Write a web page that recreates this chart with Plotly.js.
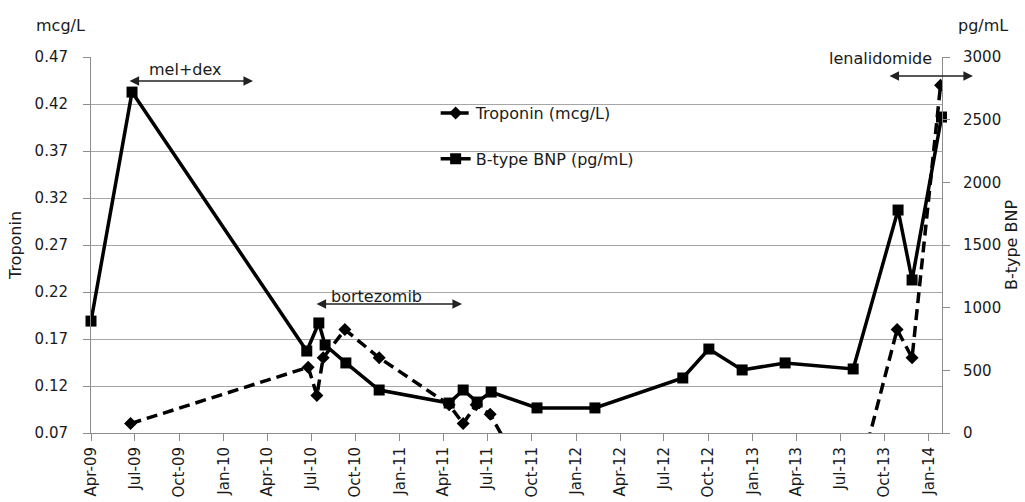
<!DOCTYPE html>
<html>
<head>
<meta charset="utf-8">
<script src="https://cdn.plot.ly/plotly-3.0.1.min.js"></script>
<style>html,body{margin:0;padding:0;background:#fff;}#chart{width:1025px;height:502px;}</style>
</head>
<body>
<div id="chart"></div>
<script>
// Troponin (mcg/L)
var tropDates = ['2009-06-22','2010-06-25','2010-07-13','2010-07-26','2010-09-09','2010-11-19',
  '2011-04-13','2011-05-12','2011-06-08','2011-07-07',
  '2011-10-12','2012-02-09','2012-08-09','2012-10-02','2012-12-10','2013-03-09','2013-07-28',
  '2013-10-27','2013-11-27','2014-01-25'];
var tropValues = [0.08,0.14,0.11,0.15,0.18,0.15,
  0.10,0.08,0.10,0.09,
  0,0,0,0,0,0,0,
  0.18,0.15,0.44];
// B-type BNP (pg/mL)
var bnpDates = ['2009-04-01','2009-06-25','2010-06-22','2010-07-17','2010-07-30','2010-09-11','2010-11-19',
  '2011-04-13','2011-05-12','2011-06-10','2011-07-09','2011-10-12','2012-02-09','2012-08-09',
  '2012-10-02','2012-12-10','2013-03-09','2013-07-28','2013-10-29','2013-11-27','2014-01-27'];
var bnpValues = [893,2720,654,878,702,559,343,
  239,343,247,327,200,200,439,
  670,503,559,511,1779,1221,2521];
// axis ticks
var xTickVals = ['2009-04-01','2009-07-01','2009-10-01','2010-01-01','2010-04-01','2010-07-01','2010-10-01',
  '2011-01-01','2011-04-01','2011-07-01','2011-10-01','2012-01-01','2012-04-01','2012-07-01','2012-10-01',
  '2013-01-01','2013-04-01','2013-07-01','2013-10-01','2014-01-01'];
var xTickText = ['Apr-09','Jul-09','Oct-09','Jan-10','Apr-10','Jul-10','Oct-10',
  'Jan-11','Apr-11','Jul-11','Oct-11','Jan-12','Apr-12','Jul-12','Oct-12',
  'Jan-13','Apr-13','Jul-13','Oct-13','Jan-14'];
var yTickVals = [0.07,0.12,0.17,0.22,0.27,0.32,0.37,0.42,0.47];
var yTickText = ['0.07','0.12','0.17','0.22','0.27','0.32','0.37','0.42','0.47'];
var y2TickVals = [0,500,1000,1500,2000,2500,3000];

var F = 'DejaVu Sans, Verdana, sans-serif';
var txt = '#1a1a1a';
var grid = '#a6a6a6';

var traces = [
  {x: tropDates, y: tropValues, type:'scatter', mode:'lines+markers', name:'Troponin (mcg/L)',
   legendgroup:'a', yaxis:'y',
   line:{color:'#000', width:3.5, dash:'11px,6px'},
   marker:{symbol:'diamond', size:10, color:'#000'}},
  {x: bnpDates, y: bnpValues, type:'scatter', mode:'lines+markers', name:'B-type BNP (pg/mL)',
   legendgroup:'b', yaxis:'y2', cliponaxis:false,
   line:{color:'#000', width:3.5},
   marker:{symbol:'square', size:11, color:'#000'}}
];

var layout = {
  width:1025, height:502,
  margin:{l:91, r:83, t:57, b:69},
  paper_bgcolor:'#fff', plot_bgcolor:'#fff',
  font:{family:F, color:txt, size:15},
  showlegend:true,
  legend:{x:0.405, y:0.896, xanchor:'left', yanchor:'top', bgcolor:'rgba(0,0,0,0)',
    font:{family:F, size:16, color:txt}, traceorder:'grouped', tracegroupgap:22},
  xaxis:{type:'date', range:['2009-04-01','2014-01-28'], tickvals:xTickVals, ticktext:xTickText,
    tickangle:-90, ticks:'outside', ticklen:7, tickcolor:'#8c8c8c', showgrid:false,
    showline:true, linecolor:'#8c8c8c', linewidth:1, zeroline:false,
    tickfont:{family:F, size:15, color:txt}},
  yaxis:{range:[0.07,0.47], tickvals:yTickVals, ticktext:yTickText, ticks:'outside', ticklen:7,
    tickcolor:'#8c8c8c', showgrid:true, gridcolor:grid, gridwidth:1, showline:true,
    linecolor:'#8c8c8c', zeroline:false, ticklabelstandoff:12,
    tickfont:{family:F, size:15, color:txt},
    title:{text:'Troponin', font:{family:F, size:16, color:txt}, standoff:8}},
  yaxis2:{overlaying:'y', side:'right', range:[0,3000], tickvals:y2TickVals, ticks:'outside', ticklen:7,
    tickcolor:'#8c8c8c', showgrid:false, showline:true, linecolor:'#8c8c8c', zeroline:false,
    ticklabelstandoff:10, tickfont:{family:F, size:15, color:txt},
    title:{text:'B-type BNP', font:{family:F, size:16, color:txt}, standoff:5}},
  annotations:[
    {xref:'paper', yref:'paper', x:-0.036, y:1.085, text:'mcg/L', showarrow:false, xanchor:'center', yanchor:'middle', font:{family:F, size:16, color:txt}},
    {xref:'paper', yref:'paper', x:1.048, y:1.085, text:'pg/mL', showarrow:false, xanchor:'center', yanchor:'middle', font:{family:F, size:16, color:txt}},
    {xref:'paper', yref:'paper', x:0.1105, y:0.968, text:'mel+dex', showarrow:false, xanchor:'center', yanchor:'middle', font:{family:F, size:16, color:txt}},
    {xref:'paper', yref:'paper', x:0.1904, y:0.9362, text:'', showarrow:true, ax:-125, ay:0, axref:'pixel', ayref:'pixel',
      arrowside:'end+start', arrowhead:2, arrowsize:1.2, arrowwidth:1.6, arrowcolor:'#222'},
    {xref:'paper', yref:'paper', x:0.335, y:0.362, text:'bortezomib', showarrow:false, xanchor:'center', yanchor:'middle', font:{family:F, size:16, color:txt}},
    {xref:'paper', yref:'paper', x:0.436, y:0.343, text:'', showarrow:true, ax:-147, ay:0, axref:'pixel', ayref:'pixel',
      arrowside:'end+start', arrowhead:2, arrowsize:1.2, arrowwidth:1.6, arrowcolor:'#222'},
    {xref:'paper', yref:'paper', x:0.928, y:0.997, text:'lenalidomide', showarrow:false, xanchor:'center', yanchor:'middle', font:{family:F, size:16, color:txt}},
    {xref:'paper', yref:'paper', x:1.0364, y:0.9495, text:'', showarrow:true, ax:-85, ay:0, axref:'pixel', ayref:'pixel',
      arrowside:'end+start', arrowhead:2, arrowsize:1.2, arrowwidth:1.6, arrowcolor:'#222'}
  ]
};

Plotly.newPlot('chart', traces, layout, {staticPlot:true, displayModeBar:false});
</script>
</body>
</html>
